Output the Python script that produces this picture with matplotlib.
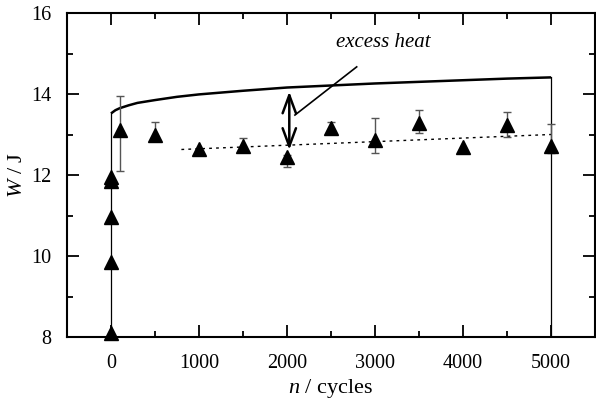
import matplotlib.pyplot as plt
from matplotlib.ticker import MultipleLocator

plt.rcParams['font.family'] = ['Liberation Serif', 'DejaVu Serif']
plt.rcParams['mathtext.fontset'] = 'custom'
plt.rcParams['mathtext.rm'] = 'Liberation Serif'
plt.rcParams['mathtext.it'] = 'Liberation Serif:italic'

# measured points (triangles)
n_pts = [0, 0, 0, 0, 0, 100, 500, 1000, 1500, 2000, 2500, 3000, 3500, 4000, 4500, 5000]
w_pts = [8.1, 9.85, 10.97, 11.85, 11.95, 13.1, 12.98, 12.63, 12.72, 12.45, 13.15, 12.86, 13.28, 12.68, 13.23, 12.72]

# error bars
n_err = [100, 500, 1500, 2000, 2500, 3000, 3500, 4500, 5000]
w_err = [13.1, 12.98, 12.72, 12.45, 13.15, 12.86, 13.28, 13.23, 12.72]
err_lo = [1.0, 0.08, 0.06, 0.25, 0.08, 0.31, 0.25, 0.3, 0.17]
err_hi = [0.85, 0.32, 0.2, 0.05, 0.15, 0.55, 0.32, 0.33, 0.54]

# model curve (solid)
n_curve = [0, 50, 100, 200, 300, 500, 750, 1000, 1500, 2000, 2500, 3000, 3500, 4000, 4500, 5000]
w_curve = [13.52, 13.6, 13.65, 13.72, 13.78, 13.85, 13.93, 13.99, 14.08, 14.16, 14.21, 14.26, 14.3, 14.34, 14.38, 14.41]

# linear trend (dotted)
n_fit = [800, 5000]
w_fit = [12.63, 13.0]

fig = plt.figure(figsize=(5.96, 4.03), dpi=100)
ax = fig.add_axes([67 / 596, 66 / 403, 528 / 596, 324 / 403])

ax.plot([0, 0], [8, w_curve[0]], color='black', lw=0.9)
ax.plot([5000, 5000], [w_curve[-1], 8], color='black', lw=0.9)
ax.plot(n_curve, w_curve, color='black', lw=1.8, solid_capstyle='butt')
ax.plot(n_fit, w_fit, color='black', lw=1.0, linestyle=(0, (2, 3)))

ax.errorbar(n_err, w_err, yerr=[err_lo, err_hi], fmt='none', ecolor='#555555',
            elinewidth=1.0, capsize=3, capthick=1.0)
ax.plot(n_pts, w_pts, '^', color='black', markersize=9.5, clip_on=False, zorder=5)

# excess heat arrow
ax.annotate('', xy=(2026, 14.06), xytext=(2026, 12.62),
            arrowprops=dict(arrowstyle='<->,head_length=1.3,head_width=0.48',
                            color='black', lw=1.8, shrinkA=0, shrinkB=0))
ax.plot([2090, 2792], [13.48, 14.67], color='black', lw=1.2)
ax.text(3090, 15.27, 'excess heat', style='italic', fontsize=15,
        ha='center', va='center')

ax.set_xlim(-500, 5500)
ax.set_ylim(8, 16)
ax.xaxis.set_major_locator(MultipleLocator(1000))
ax.xaxis.set_minor_locator(MultipleLocator(500))
ax.yaxis.set_major_locator(MultipleLocator(2))
ax.yaxis.set_minor_locator(MultipleLocator(1))
ax.tick_params(which='both', direction='in', top=True, right=True,
               labelsize=14.5, width=1.3)
ax.tick_params(which='major', length=8.5)
ax.tick_params(axis='x', which='major', pad=12)
ax.tick_params(axis='y', which='major', pad=11)
ax.tick_params(which='minor', length=4.5)
for sp in ax.spines.values():
    sp.set_linewidth(1.5)

ax.set_xlabel(r'$\it{n}$ / cycles', fontsize=16, labelpad=3)
ax.set_ylabel(r'$\it{W}$ / J', fontsize=16, labelpad=3)

fig.savefig('out.png', dpi=100)
